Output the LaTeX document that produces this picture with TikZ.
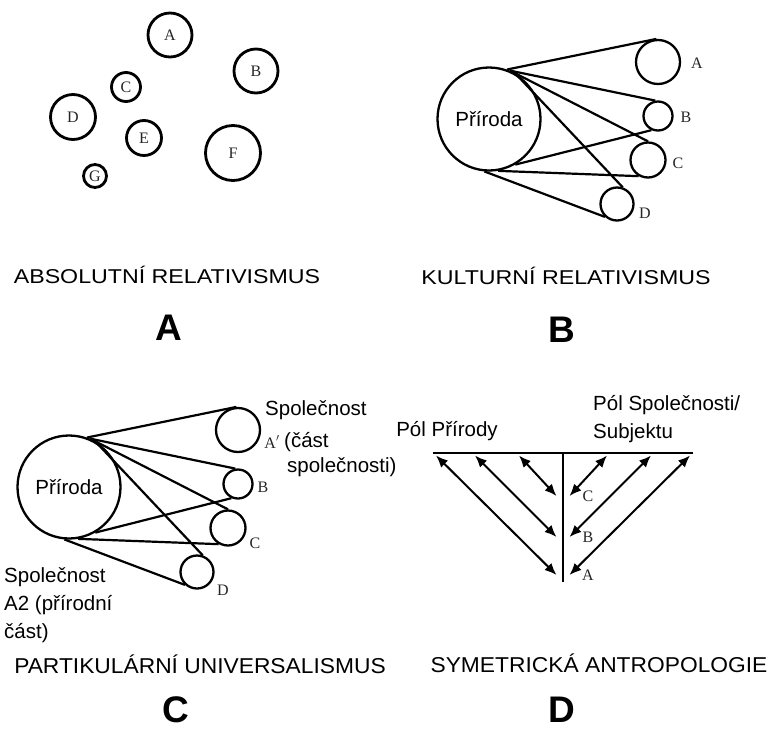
\documentclass[tikz,border=0pt]{standalone}
\usepackage{fontspec}
\setmainfont{Liberation Serif}
\newfontfamily\labelfont{Liberation Sans}
\newfontfamily\capfont[FakeStretch=1.16]{Liberation Sans}
\newfontfamily\capfontb[FakeStretch=1.06]{Liberation Sans}
\usetikzlibrary{arrows.meta}

\tikzset{
    ring/.style = {circle, draw, line width = 2.8pt, inner sep = 0pt, minimum size = #1pt,
        font = \fontsize{16}{16}\selectfont, text = black!85},
    thinring/.style = {circle, draw, line width = 2.3pt, inner sep = 0pt, minimum size = #1pt},
    bigring/.style = {circle, draw, line width = 2.3pt, inner sep = 0pt, minimum size = 103pt,
        font = \labelfont\fontsize{20.5}{20.5}\selectfont},
    tie/.style = {line width = 2.2pt},
    letter/.style = {inner sep = 0pt, font = \fontsize{16}{16}\selectfont, text = black!85},
    sans/.style = {inner sep = 0pt, font = \labelfont\fontsize{20.5}{28}\selectfont},
    title/.style = {anchor = base, inner sep = 0pt, font = \capfont\fontsize{20}{20}\selectfont},
    titleb/.style = {anchor = base, inner sep = 0pt, font = \capfontb\fontsize{21.5}{21.5}\selectfont},
    bigletter/.style = {anchor = base, inner sep = 0pt, font = \labelfont\bfseries\fontsize{37}{37}\selectfont},
    dart/.style = {line width = 2pt, {Latex[length=12pt, width=10pt]}-{Latex[length=12pt, width=10pt]}},
}

\begin{document}
\begin{tikzpicture}[x = 1pt, y = -1pt]
    \fill [white] (0, 0) rectangle (771, 729);
    \useasboundingbox (0, 0) rectangle (771, 729);

    % A: separate circles
    \foreach \n/\x/\y/\s in {A/170/35/44, B/256/71/44, C/126/87/29, D/73/117/45,
                             E/144/138/35, F/233/153/55, G/95/176/23} {
        \node [ring = \s] (a-\n) at (\x, \y) {\n};
    }

    % B and C: nature with the small circles
    \foreach \p/\sx/\sy in {b/0/0, c/-420/368} {
        \begin{scope}[shift = {(\sx, \sy)}]
            \node [bigring] (\p-nat) at (489, 119) {Příroda};
            \foreach \n/\x/\y/\s in {A/658/62/44, B/658/116/29, C/648/160/35, D/617/204/33} {
                \node [thinring = \s] (\p-\n) at (\x, \y) {};
            }
            \foreach \u/\n/\v in {70/A/94, 67/B/100, 64/C/90, 60/D/71,
                                  -60/B/-115, -80/C/-120, -95/D/-133} {
                \draw [tie] (\p-nat.\u) -- (\p-\n.\v);
            }
        \end{scope}
    }
    \foreach \n/\x/\y in {A/697/63, B/686/117, C/678/163, D/645/213} {
        \node [letter] (b-\n-txt) at (\x, \y) {\n};
    }
    \foreach \n/\x/\y in {B/263/487, C/255/543, D/223/590} {
        \node [letter] (c-\n-txt) at (\x, \y) {\n};
    }
    \node [letter] (c-A-txt) at (272, 442) {A$'$};
    \node [sans, anchor = west] (c-soc) at (265, 410) {Společnost};
    \node [sans, anchor = west] (c-part) at (284, 442) {(část};
    \node [sans, anchor = west] (c-part2) at (287, 467) {společnosti)};
    \node [sans, anchor = west, align = left] (c-nat-txt) at (4, 605) {Společnost\\A2 (přírodní\\část)};

    % D: the two poles
    \coordinate (d-l) at (433, 453);
    \coordinate (d-r) at (693, 453);
    \coordinate (d-top) at (563, 453);
    \coordinate (d-bot) at (563, 582);
    \draw [line width = 2pt] (d-l) -- (d-r);
    \draw [line width = 2pt] (d-top) -- (d-bot);
    \foreach \n/\y/\d in {C/496/44, B/537/88, A/575/127} {
        \coordinate (d-\n-l) at (556.5, \y);
        \coordinate (d-\n-r) at (569.5, \y);
        \coordinate (d-\n-tl) at (563 - \d, 455.5);
        \coordinate (d-\n-tr) at (563 + \d, 455.5);
        \draw [dart] (d-\n-l) -- (d-\n-tl);
        \draw [dart] (d-\n-r) -- (d-\n-tr);
        \node [letter] (d-\n) at (588, \y) {\n};
    }
    \node [sans] (d-nat) at (447, 431) {Pól Přírody};
    \node [sans, anchor = west, align = left] (d-soc) at (593, 419) {Pól Společnosti/\\Subjektu};

    % captions
    \node [title] (a-title) at (167, 283.5) {ABSOLUTNÍ RELATIVISMUS};
    \node [title] (b-title) at (566, 284) {KULTURNÍ RELATIVISMUS};
    \node [titleb] (c-title) at (200, 673) {PARTIKULÁRNÍ UNIVERSALISMUS};
    \node [titleb] (d-title) at (599, 672.5) {SYMETRICKÁ ANTROPOLOGIE};
    \node [bigletter] (a-mark) at (169, 340.5) {A};
    \node [bigletter] (b-mark) at (562, 342) {B};
    \node [bigletter] (c-mark) at (176, 722) {C};
    \node [bigletter] (d-mark) at (562, 722) {D};
\end{tikzpicture}
\end{document}
